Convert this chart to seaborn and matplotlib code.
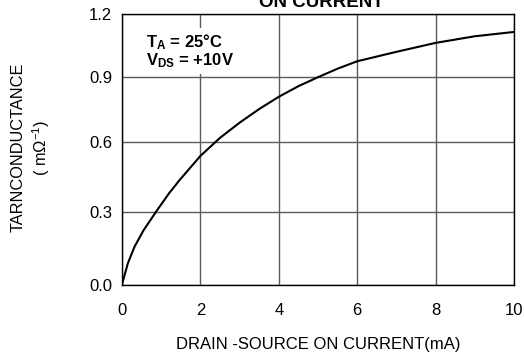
import numpy as np
import pandas as pd
import matplotlib
matplotlib.use("Agg")
import matplotlib.pyplot as plt
import seaborn as sns

# Drain-source on current (mA) and transconductance (1/mOhm)
current_ma = [0.0, 0.15, 0.32, 0.55, 0.87, 1.2, 1.47, 2.0, 2.5, 3.0, 3.5, 4.0,
              4.5, 5.0, 5.5, 6.0, 7.0, 8.0, 9.0, 10.0]
transconductance = [0.0, 0.086, 0.154, 0.222, 0.30, 0.378, 0.435, 0.54, 0.62, 0.688,
                    0.75, 0.806, 0.855, 0.897, 0.937, 0.972, 1.017, 1.06, 1.092, 1.113]

x_ticks = [0, 2, 4, 6, 8, 10]
y_ticks = [0.0, 0.3, 0.6, 0.9, 1.2]
y_tick_labels = ["0.0", "0.3", "0.6", "0.9", "1.2"]

df = pd.DataFrame({"current": current_ma, "gm": transconductance})

sns.set_theme(style="white")
plt.rcParams["font.family"] = ["Liberation Sans", "DejaVu Sans"]
plt.rcParams["mathtext.fontset"] = "custom"
plt.rcParams["mathtext.rm"] = "Liberation Sans"
plt.rcParams["mathtext.bf"] = "Liberation Sans:bold"
plt.rcParams["mathtext.default"] = "regular"

fig = plt.figure(figsize=(5.24, 3.56), dpi=100)
ax = fig.add_axes([0.2328, 0.2008, 0.7482, 0.7592])

# slightly compressed vertical scale of the printed graph paper
A, B, YMAX = 1.104, 0.104, 1.2


def fwd(y):
    t = np.asarray(y, dtype=float) / YMAX
    return YMAX * t * (A - B * t)


def inv(p):
    s = np.asarray(p, dtype=float) / YMAX
    arg = np.clip(A * A - 4 * B * s, 0, None)
    return YMAX * (A - np.sqrt(arg)) / (2 * B)


ax.set_yscale("function", functions=(fwd, inv))

sns.lineplot(data=df, x="current", y="gm", ax=ax, color="black", lw=1.5, zorder=3)
ax.lines[-1].set_solid_joinstyle("round")

ax.set_xlim(0, 10)
ax.set_ylim(0, 1.2)
ax.set_xticks(x_ticks)
ax.set_xticklabels([str(v) for v in x_ticks])
ax.set_yticks(y_ticks)
ax.set_yticklabels(y_tick_labels)
ax.minorticks_off()
ax.tick_params(axis="x", length=0, pad=13, labelsize=12, colors="black")
ax.tick_params(axis="y", length=0, pad=7, labelsize=12, colors="black")

ax.grid(True, color="#5a5a5a", lw=1.0)
for sp in ax.spines.values():
    sp.set_color("black")
    sp.set_linewidth(1.0)
    sp.set_zorder(4)

ax.set_xlabel("DRAIN -SOURCE ON CURRENT(mA)", fontsize=12, labelpad=14, color="black")
ax.set_ylabel("")

fig.text(0.035, 0.585, "TARNCONDUCTANCE", rotation=90, fontsize=11.8,
         ha="center", va="center", color="black")
fig.text(0.078, 0.585, r"( m$\Omega^{-1}$)", rotation=90, fontsize=11.8,
         ha="center", va="center", color="black")

ax.text(0.062, 0.935, "T$_{A}$ = 25°C\nV$_{DS}$ = +10V", transform=ax.transAxes,
        fontsize=12, fontweight="bold", ha="left", va="top", linespacing=1.0,
        color="black", zorder=5,
        bbox=dict(boxstyle="square,pad=0.25", fc="white", ec="none"))

fig.text(0.613, 1 - 6.7 / 356, "ON CURRENT", fontsize=13.5, fontweight="bold",
         ha="center", va="baseline", color="black")

fig.savefig("out.png", dpi=100)
